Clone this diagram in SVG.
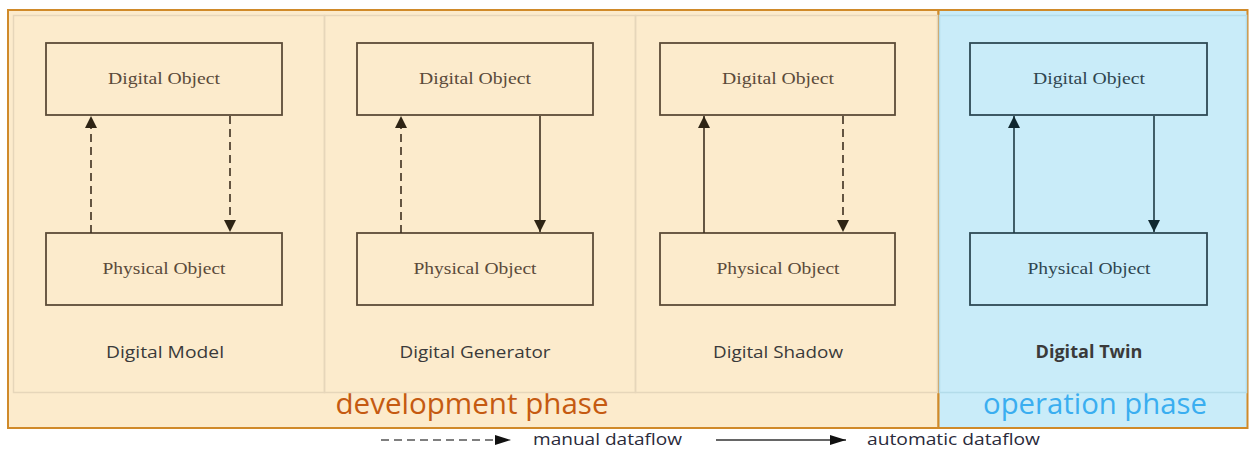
<svg xmlns="http://www.w3.org/2000/svg" width="1249" height="451" viewBox="0 0 1249 451">
  <style>
    .panel { fill: none; stroke: #e6d6ba; stroke-width: 1.5; }
    .panel-op { fill: none; stroke: #b3dcea; stroke-width: 1.5; }
    .box { fill: none; stroke: #5c4c38; stroke-width: 1.8; }
    .box-op { fill: none; stroke: #2e4a55; stroke-width: 1.8; }
    .obj { font-family: "Liberation Serif", "DejaVu Serif", serif; font-size: 16.5px; fill: #5a4a3a; text-anchor: middle; }
    .obj-op { font-family: "Liberation Serif", "DejaVu Serif", serif; font-size: 16.5px; fill: #2f4650; text-anchor: middle; }
    .title { font-family: "Open Sans", "Liberation Sans", sans-serif; font-size: 17px; fill: #3a3a3a; text-anchor: middle; }
    .phase { font-family: "Open Sans", "Liberation Sans", sans-serif; font-size: 29px; text-anchor: middle; }
    .legend { font-family: "Open Sans", "Liberation Sans", sans-serif; font-size: 17px; fill: #2a2a3a; }
    .flow { fill: none; stroke: #3e3020; stroke-width: 1.6; }
    .flow-op { fill: none; stroke: #1f3a44; stroke-width: 1.6; }
    .manual { stroke-dasharray: 8 5; }
  </style>
  <defs>
    <marker id="head" viewBox="0 0 12 16" refX="12" refY="8" markerWidth="12" markerHeight="16" markerUnits="userSpaceOnUse" orient="auto">
      <path d="M0,2 L12,8 L0,14 Z" fill="#2e2414"/>
    </marker>
    <marker id="head-op" viewBox="0 0 12 16" refX="12" refY="8" markerWidth="12" markerHeight="16" markerUnits="userSpaceOnUse" orient="auto">
      <path d="M0,2 L12,8 L0,14 Z" fill="#10272f"/>
    </marker>
    <marker id="head-legend" viewBox="0 0 16 12" refX="16" refY="6" markerWidth="16" markerHeight="12" markerUnits="userSpaceOnUse" orient="auto">
      <path d="M0,1 L16,6 L0,11 Z" fill="#111"/>
    </marker>
  </defs>

  <rect x="0" y="0" width="1249" height="451" fill="#ffffff"/>

  <!-- phase backgrounds -->
  <g id="development-phase">
    <rect x="8" y="10" width="930.5" height="418" fill="#fcebcc" stroke="#d08a2a" stroke-width="2"/>
    <text class="phase" x="472" y="414" fill="#c55a11" textLength="273" lengthAdjust="spacingAndGlyphs">development phase</text>
  </g>
  <g id="operation-phase">
    <rect x="938.5" y="10" width="309" height="418" fill="#c9ecf9" stroke="#d08a2a" stroke-width="2"/>
    <text class="phase" x="1095" y="414" fill="#3aaef0" textLength="224" lengthAdjust="spacingAndGlyphs">operation phase</text>
  </g>

  <!-- panel frames -->
  <rect class="panel" x="13.5" y="15.5" width="311" height="377"/>
  <rect class="panel" x="324.5" y="15.5" width="311" height="377"/>
  <rect class="panel" x="635.5" y="15.5" width="302" height="377"/>
  <rect class="panel-op" x="939.5" y="15.5" width="307" height="377"/>

  <!-- Digital Model -->
  <g id="digital-model">
    <g id="dm-digital">
      <rect class="box" x="46" y="43" width="236" height="72"/>
      <text class="obj" x="164" y="84" textLength="112" lengthAdjust="spacingAndGlyphs">Digital Object</text>
    </g>
    <g id="dm-physical">
      <rect class="box" x="46" y="233" width="236" height="72"/>
      <text class="obj" x="164" y="274" textLength="123" lengthAdjust="spacingAndGlyphs">Physical Object</text>
    </g>
    <text class="title" x="165" y="358" textLength="118" lengthAdjust="spacingAndGlyphs">Digital Model</text>
  </g>

  <!-- Digital Generator -->
  <g id="digital-generator">
    <g id="dg-digital">
      <rect class="box" x="357" y="43" width="236" height="72"/>
      <text class="obj" x="475" y="84" textLength="112" lengthAdjust="spacingAndGlyphs">Digital Object</text>
    </g>
    <g id="dg-physical">
      <rect class="box" x="357" y="233" width="236" height="72"/>
      <text class="obj" x="475" y="274" textLength="123" lengthAdjust="spacingAndGlyphs">Physical Object</text>
    </g>
    <text class="title" x="475" y="358" textLength="151" lengthAdjust="spacingAndGlyphs">Digital Generator</text>
  </g>

  <!-- Digital Shadow -->
  <g id="digital-shadow">
    <g id="ds-digital">
      <rect class="box" x="660" y="43" width="235" height="72"/>
      <text class="obj" x="778" y="84" textLength="112" lengthAdjust="spacingAndGlyphs">Digital Object</text>
    </g>
    <g id="ds-physical">
      <rect class="box" x="660" y="233" width="235" height="72"/>
      <text class="obj" x="778" y="274" textLength="123" lengthAdjust="spacingAndGlyphs">Physical Object</text>
    </g>
    <text class="title" x="778" y="358" textLength="130" lengthAdjust="spacingAndGlyphs">Digital Shadow</text>
  </g>

  <!-- Digital Twin -->
  <g id="digital-twin">
    <g id="dt-digital">
      <rect class="box-op" x="970" y="43" width="237" height="72"/>
      <text class="obj-op" x="1089" y="84" textLength="112" lengthAdjust="spacingAndGlyphs">Digital Object</text>
    </g>
    <g id="dt-physical">
      <rect class="box-op" x="970" y="233" width="237" height="72"/>
      <text class="obj-op" x="1089" y="274" textLength="123" lengthAdjust="spacingAndGlyphs">Physical Object</text>
    </g>
    <text class="title" x="1089" y="358" font-weight="bold" fill="#1e2a30" textLength="107" lengthAdjust="spacingAndGlyphs">Digital Twin</text>
  </g>

  <!-- dataflow connectors -->
  <g id="connectors">
    <line class="flow manual" x1="91" y1="233" x2="91" y2="116" marker-end="url(#head)"/>
    <line class="flow manual" x1="230" y1="116" x2="230" y2="232" marker-end="url(#head)"/>
    <line class="flow manual" x1="401" y1="233" x2="401" y2="116" marker-end="url(#head)"/>
    <line class="flow" x1="540" y1="116" x2="540" y2="232" marker-end="url(#head)"/>
    <line class="flow" x1="704" y1="233" x2="704" y2="116" marker-end="url(#head)"/>
    <line class="flow manual" x1="843" y1="116" x2="843" y2="232" marker-end="url(#head)"/>
    <line class="flow-op" x1="1014" y1="233" x2="1014" y2="116" marker-end="url(#head-op)"/>
    <line class="flow-op" x1="1154" y1="116" x2="1154" y2="232" marker-end="url(#head-op)"/>
  </g>

  <!-- legend -->
  <g id="legend">
    <line x1="381" y1="440" x2="511" y2="440" stroke="#555" stroke-width="1.6" stroke-dasharray="8 5" marker-end="url(#head-legend)"/>
    <text class="legend" x="533" y="445" textLength="149" lengthAdjust="spacingAndGlyphs">manual dataflow</text>
    <line x1="716" y1="440" x2="846" y2="440" stroke="#333" stroke-width="1.6" marker-end="url(#head-legend)"/>
    <text class="legend" x="867" y="445" textLength="173" lengthAdjust="spacingAndGlyphs">automatic dataflow</text>
  </g>
</svg>
